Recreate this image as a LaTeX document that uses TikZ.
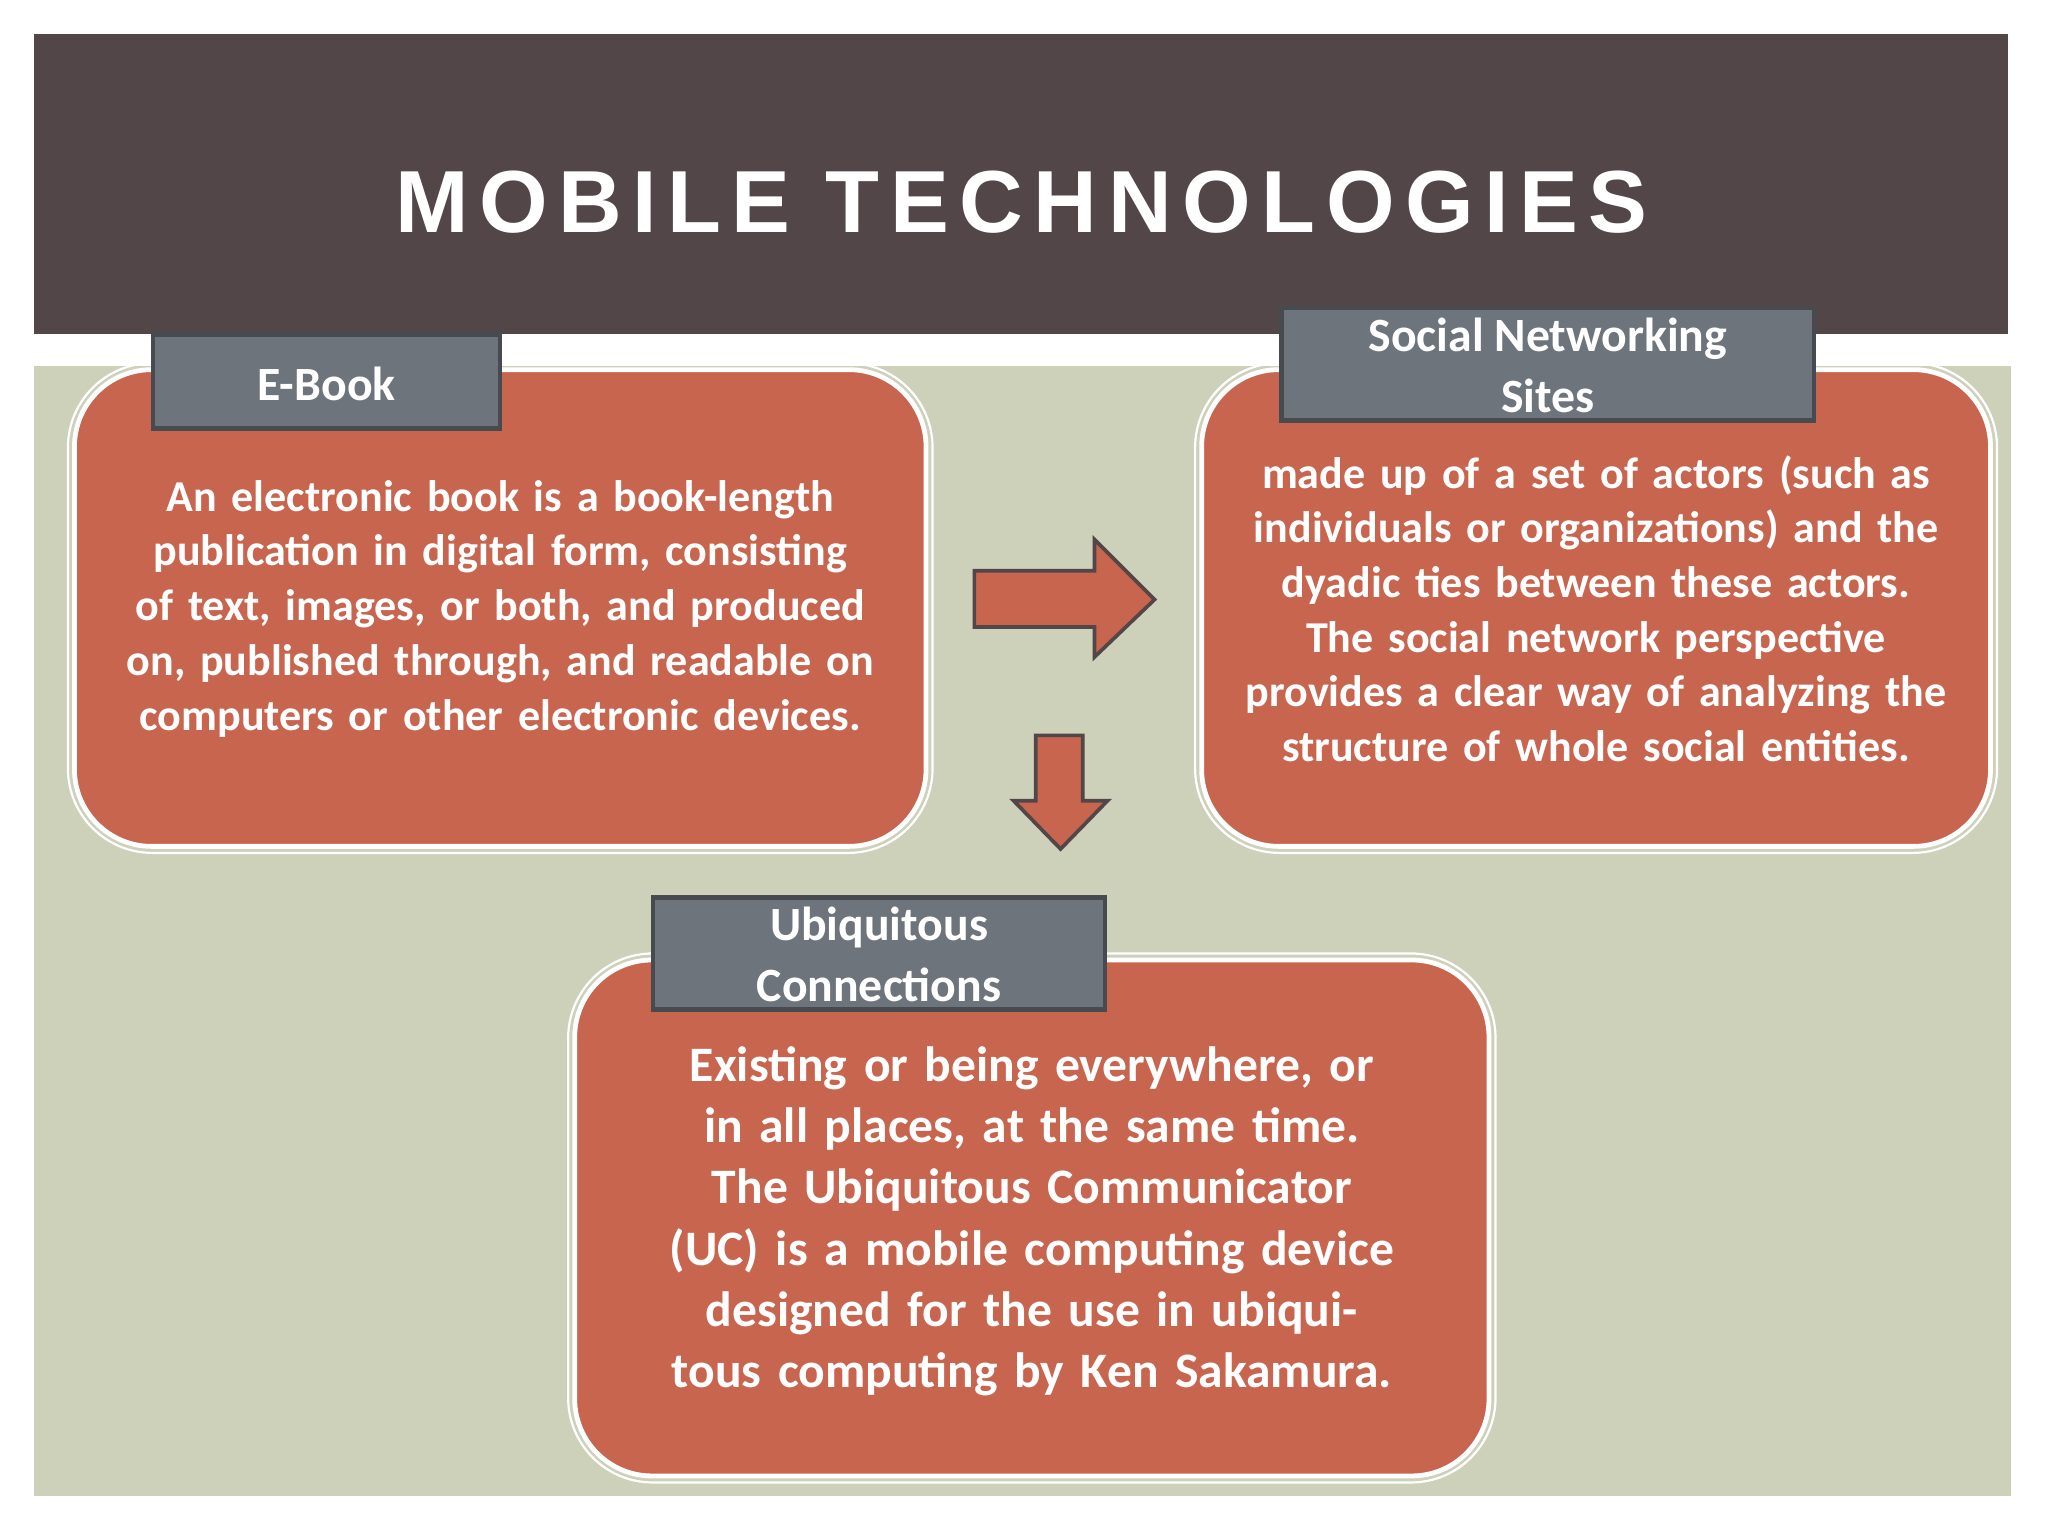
\documentclass[tikz,border=0pt]{standalone}
\usepackage{fontspec}
\setmainfont{Carlito}
\newfontfamily\titlefont[LetterSpace=12]{Liberation Sans}
\definecolor{hdr}{HTML}{524648}
\definecolor{bg}{HTML}{CDD1BA}
\definecolor{boxred}{HTML}{C8654F}
\definecolor{tabg}{HTML}{6E747C}
\definecolor{tabd}{HTML}{474B50}
\begin{document}
\begin{tikzpicture}[x=0.0125cm,y=-0.0125cm,
  card/.style={fill=boxred,draw=white,line width=1.3pt,rounded corners=21pt},
  cardout/.style={draw=white,line width=0.6pt,rounded corners=23pt},
  tab/.style={fill=tabg,draw=tabd,line width=1.2pt},
  tabtxt/.style={text=white,font=\fontsize{13}{16.6}\selectfont\bfseries,align=center},
  body/.style={text=white,align=center,font=\fontsize{12}{14.9}\selectfont\bfseries},
  arr/.style={fill=boxred,draw=hdr,line width=1pt}]
\useasboundingbox (0,0) rectangle (1568,1176);
\fill[white] (0,0) rectangle (1568,1176);
\fill[hdr] (26,26) rectangle (1537,256);
\fill[bg] (26,280) rectangle (1540,1145);
\node[text=white,font=\titlefont\fontsize{24}{28}\selectfont\bfseries] (title) at (782,155) {MOBILE TECHNOLOGIES};
% E-Book
\draw[cardout] (52,278) rectangle (714,653);
\draw[card] (57,283) rectangle (709,648);
\draw[tab] (117,256) rectangle (383,328);
\node[tabtxt] (t1) at (250,294) {E-Book};
\node[body,text width=620\pgflinewidth] (b1) at (383,466) {};
\node[body,text width=225pt] at (383,466) {An electronic book is a book-length publication in digital form, consisting of text, images, or both, and produced on, published through, and readable on computers or other electronic devices.};
% Social
\draw[cardout] (915,278) rectangle (1529,653);
\draw[card] (920,283) rectangle (1524,648);
\draw[tab] (981,236) rectangle (1389,322);
\node[tabtxt] (t2) at (1185,280) {Social Networking\\Sites};
\node[body,text width=200pt] (b2) at (1222,466) {made up of a set of actors (such as individuals or organizations) and the dyadic ties between these actors. The social network perspective provides a clear way of analyzing the structure of whole social entities.};
% Ubiquitous
\draw[cardout] (435,730) rectangle (1145,1135);
\draw[card] (440,735) rectangle (1140,1130);
\draw[tab] (500,687) rectangle (846,773);
\node[tabtxt] (t3) at (673,731) {Ubiquitous\\Connections};
\node[body,font=\fontsize{13.5}{16.7}\selectfont\bfseries,text width=225pt] (b3) at (790,935) {Existing or being everywhere, or in all places, at the same time. The Ubiquitous Communicator (UC) is a mobile computing device designed for the use in ubiquitous computing by Ken Sakamura.};
% arrows
\draw[arr] (746,437) -- (838,437) -- (838,413) -- (884,459) -- (838,503) -- (838,480) -- (746,480) -- cycle;
\draw[arr] (793,563) -- (829,563) -- (829,613) -- (848,613) -- (812,650) -- (776,613) -- (793,613) -- cycle;
\end{tikzpicture}
\end{document}
